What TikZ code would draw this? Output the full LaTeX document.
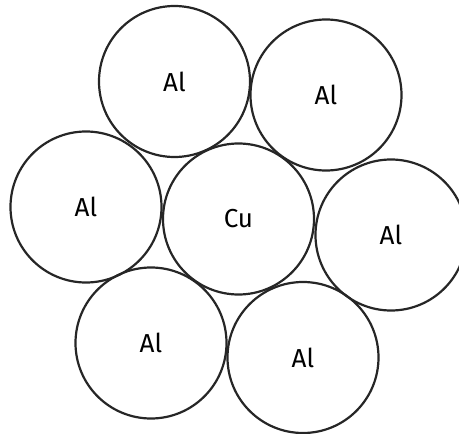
\documentclass[tikz,border=0pt]{standalone}
\usepackage{fontspec}
\setmainfont{Fira Sans}
\begin{document}
\begin{tikzpicture}[x=1pt,y=-1pt,
  atom/.style={circle,draw=black!85,line width=2.2pt,minimum size=151pt,inner sep=0pt,font=\fontsize{26}{28}\selectfont}]
\useasboundingbox (0,0) rectangle (459,434);
\node[atom] (a1) at (174.5,81.5) {Al};
\node[atom] (a2) at (326,95) {Al};
\node[atom] (a3) at (86,207) {Al};
\node[atom] (cu) at (238.5,219) {Cu};
\node[atom] (a4) at (391,235) {Al};
\node[atom] (a5) at (151,343) {Al};
\node[atom] (a6) at (303,357.5) {Al};
\end{tikzpicture}
\end{document}
